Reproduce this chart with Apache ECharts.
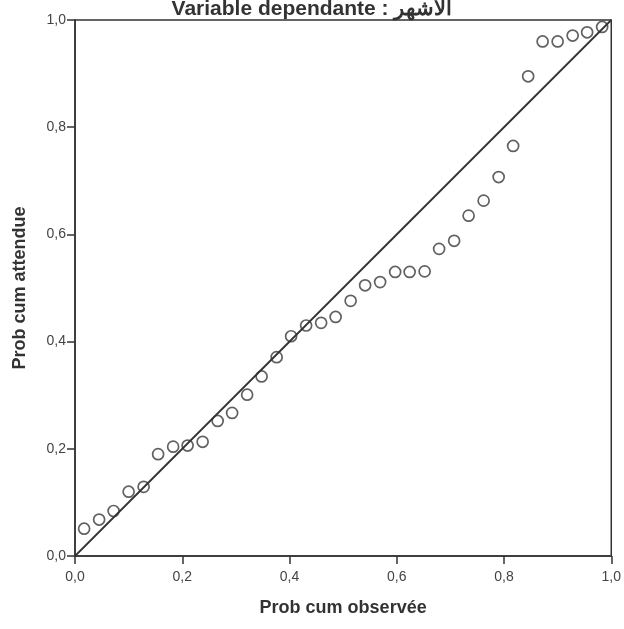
<!DOCTYPE html>
<html>
<head>
<meta charset="utf-8">
<script src="https://cdn.jsdelivr.net/npm/echarts@6/dist/echarts.min.js"></script>
<style>html,body{margin:0;padding:0;background:#fff;}#c{width:624px;height:629px;}</style>
</head>
<body>
<div id="c"></div>
<script>
var titleText = 'Variable dependante : الاشهر';
var xName = 'Prob cum observée';
var yName = 'Prob cum attendue';
var observed = [0.017,0.045,0.072,0.100,0.128,0.155,0.183,0.210,0.238,0.266,0.293,0.321,0.348,0.376,0.403,0.431,0.459,0.486,0.514,0.541,0.569,0.597,0.624,0.652,0.679,0.707,0.734,0.762,0.790,0.817,0.845,0.872,0.900,0.928,0.955,0.983];
var expected = [0.051,0.068,0.084,0.120,0.129,0.190,0.204,0.206,0.213,0.252,0.267,0.301,0.335,0.371,0.410,0.430,0.435,0.446,0.476,0.505,0.511,0.530,0.530,0.531,0.573,0.588,0.635,0.663,0.707,0.765,0.895,0.960,0.960,0.971,0.977,0.987];
var refLine = [[0,0],[1,1]];

var pts = observed.map(function(v,i){return [v, expected[i]];});
var fmt = function(v){return v.toFixed(1).replace('.', ',');};
var font = 'Liberation Sans';
var chart = echarts.init(document.getElementById('c'));
chart.setOption({
  animation:false,
  backgroundColor:'#fff',
  title:{text:titleText,left:'center',top:-6,textStyle:{fontFamily:font,fontSize:21,fontWeight:'bold',color:'#333'}},
  grid:{left:75,right:10,top:20,bottom:73,show:true,borderColor:'#333',borderWidth:1.5,backgroundColor:'transparent'},
  xAxis:{type:'value',min:0,max:1,interval:0.2,name:xName,nameLocation:'middle',nameGap:43,
    nameTextStyle:{fontFamily:font,fontSize:18,fontWeight:'bold',color:'#333'},
    axisLine:{show:true,lineStyle:{color:'#333',width:1.5}},
    axisTick:{show:true,length:8,lineStyle:{color:'#333',width:1.5}},
    axisLabel:{formatter:fmt,fontFamily:font,fontSize:14,color:'#444',margin:14},
    splitLine:{show:false}},
  yAxis:{type:'value',min:0,max:1,interval:0.2,name:yName,nameLocation:'middle',nameGap:46,nameRotate:90,
    nameTextStyle:{fontFamily:font,fontSize:18,fontWeight:'bold',color:'#333'},
    axisLine:{show:true,lineStyle:{color:'#333',width:1.5}},
    axisTick:{show:true,length:8,lineStyle:{color:'#333',width:1.5}},
    axisLabel:{formatter:fmt,fontFamily:font,fontSize:14,color:'#444',margin:9},
    splitLine:{show:false}},
  series:[
    {type:'line',data:refLine,symbol:'none',lineStyle:{color:'#333',width:1.8},silent:true},
    {type:'scatter',data:pts,symbol:'circle',symbolSize:11,
      itemStyle:{color:'rgba(255,255,255,0)',borderColor:'#3a3a3a',borderWidth:1.7}}
  ]
});
</script>
</body>
</html>
